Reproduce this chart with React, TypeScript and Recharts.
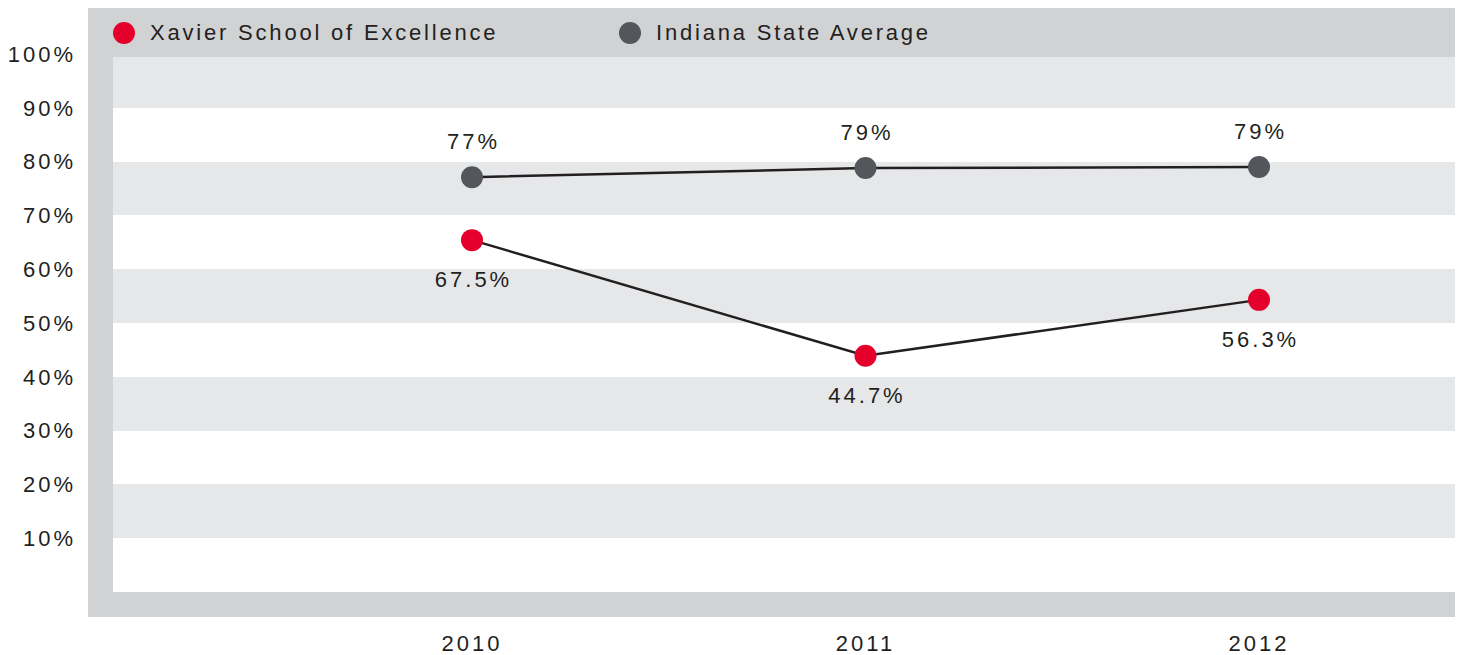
import React from 'react';
import { LineChart, Line, XAxis, YAxis, CartesianGrid, LabelList } from 'recharts';

const years = ['2010', '2011', '2012'];
const xavierValues = [65.4, 43.9, 54.3];
const xavierLabels = ['67.5%', '44.7%', '56.3%'];
const indianaValues = [77.1, 78.8, 79.0];
const indianaLabels = ['77%', '79%', '79%'];
const yTicks = [10, 20, 30, 40, 50, 60, 70, 80, 90, 100];

const data = years.map((year, i) => ({
  year,
  xavier: xavierValues[i],
  indiana: indianaValues[i],
}));

const series = [
  { key: 'xavier', name: 'Xavier School of Excellence', color: '#e4002b', labels: xavierLabels, below: true },
  { key: 'indiana', name: 'Indiana State Average', color: '#53565a', labels: indianaLabels, below: false },
];

const FONT = '"Liberation Sans", Arial, Helvetica, sans-serif';
const TEXT = '#231f20';
const FRAME = '#d1d2d4';
const BAND = '#e6e7e9';

const tickStyle = { fontSize: 22, fill: TEXT, fontFamily: FONT, letterSpacing: 3 };

function pointLabel(labels: string[], below: boolean) {
  return (props: any) => {
    const { x, y, index } = props;
    return (
      <text
        x={x + 1.5}
        y={below ? y + 39 : y - 36}
        dy="0.36em"
        textAnchor="middle"
        fontSize={22}
        fontFamily={FONT}
        fill={TEXT}
        style={{ letterSpacing: 3 }}
      >
        {labels[index]}
      </text>
    );
  };
}

export default function App() {
  return (
    <div style={{ position: 'relative', width: 1455, height: 647, fontFamily: FONT }}>
      <div style={{ position: 'absolute', left: 80, top: 0, width: 1369, height: 609, background: FRAME }} />
      <div style={{ position: 'absolute', left: 105, top: 49, width: 1344, height: 535, background: '#fff' }} />
      <div style={{ position: 'absolute', left: 0, top: 0, zIndex: 1 }}>
        <LineChart width={1455} height={647} data={data} margin={{ top: 46, right: 6, bottom: 0, left: 0 }}>
          <CartesianGrid vertical={false} stroke="transparent" horizontalFill={[BAND, '#ffffff']} fillOpacity={1} />
          <XAxis
            dataKey="year"
            height={63}
            padding={{ left: 359, right: 198 }}
            axisLine={false}
            tickLine={false}
            tickSize={0}
            tickMargin={43}
            tick={tickStyle}
          />
          <YAxis
            type="number"
            domain={[0, 100]}
            ticks={yTicks}
            width={105}
            axisLine={false}
            tickLine={false}
            tickSize={0}
            tickMargin={37}
            tick={tickStyle}
            tickFormatter={(v) => `${v}%`}
          />
          {series.map((s) => (
            <Line
              key={s.key}
              dataKey={s.key}
              name={s.name}
              stroke={TEXT}
              strokeWidth={2.5}
              dot={{ r: 11, fill: s.color, stroke: 'none' }}
              activeDot={false}
              isAnimationActive={false}
            >
              <LabelList dataKey={s.key} content={pointLabel(s.labels, s.below)} />
            </Line>
          ))}
        </LineChart>
      </div>
      <div
        style={{
          position: 'absolute',
          left: 80,
          top: 0,
          width: 1369,
          height: 49,
          background: FRAME,
          zIndex: 2,
        }}
      >
        {series.map((s, i) => (
          <div
            key={s.key}
            style={{
              position: 'absolute',
              left: i === 0 ? 25 : 531,
              top: 14,
              display: 'flex',
              alignItems: 'center',
              height: 22,
            }}
          >
            <span style={{ width: 22, height: 22, borderRadius: 11, background: s.color, display: 'inline-block' }} />
            <span style={{ marginLeft: 15, fontSize: 22, color: TEXT, letterSpacing: 2.8, lineHeight: '22px' }}>{s.name}</span>
          </div>
        ))}
      </div>
    </div>
  );
}
